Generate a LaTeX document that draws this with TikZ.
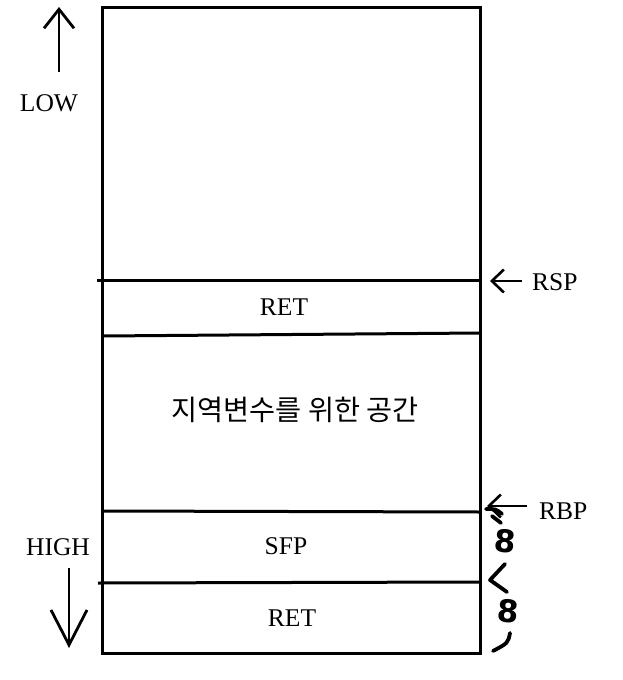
\documentclass[tikz,border=0pt]{standalone}
\usepackage{fontspec}
\setmainfont{Liberation Serif}
\newfontfamily\krfont{Noto Sans CJK KR}
\newfontfamily\handfont{DejaVu Sans}
\usetikzlibrary{arrows.meta}
\begin{document}
\begin{tikzpicture}[x=1pt,y=-1pt,
  wall/.style={line width=3pt},
  lbl/.style={font=\fontsize{25.5}{28}\selectfont, inner sep=0pt},
  bigarrow/.style={line width=2.8pt, -{Straight Barb[length=19pt,width=30pt,line width=2.8pt]}},
  ptr/.style={line width=2.6pt, -{Straight Barb[length=12pt,width=23pt,line width=2.6pt]}},
  hand/.style={line width=3.8pt, line cap=round, line join=round},
  handdigit/.style={font=\handfont\bfseries\fontsize{31}{31}\selectfont, inner sep=0pt}]
\useasboundingbox (0,0) rectangle (622,680);
% stack frame
\draw[wall] (102,7) rectangle (480,653);
\draw[wall] (97,280) -- (480,280);
\draw[wall] (103,336) -- (480,333);
\draw[wall] (102,511) -- (480,512);
\draw[wall] (98,583) -- (480,582);
% contents
\node[lbl] (ret1) at (284,307) {RET};
\node[font=\krfont\fontsize{28.3}{30}\selectfont, inner sep=0pt] (locals) at (295,410) {지역변수를 위한 공간};
\node[lbl] (sfp) at (286,546) {SFP};
\node[lbl] (ret2) at (292,618) {RET};
% direction labels
\node[lbl] (low) at (49,103) {LOW};
\coordinate (lowstart) at (59,72);
\coordinate (lowend) at (59,7);
\draw[bigarrow] (lowstart) -- (lowend);
\node[lbl] (high) at (58,547) {HIGH};
\coordinate (highstart) at (69,568);
\coordinate (highend) at (69,648);
\draw[bigarrow, -{Straight Barb[length=35pt,width=36pt,line width=2.8pt]}] (highstart) -- (highend);
% pointers
\node[lbl, anchor=west] (rsp) at (532,282) {RSP};
\coordinate (rsptip) at (490,281);
\coordinate (rspstart) at (522,281);
\draw[ptr] (rspstart) -- (rsptip);
\node[lbl, anchor=west] (rbp) at (539,511) {RBP};
\coordinate (rbptip) at (487,506);
\coordinate (rbpstart) at (527,506);
\draw[ptr] (rbpstart) -- (rbptip);
% handwritten size marks
\draw[hand] (486,509) .. controls (496,509) .. (502,514);
\draw[hand] (492,516) -- (501,523);
\node[handdigit, rotate=-5] (eight1) at (505,541) {8};
\draw[hand] (505,564) -- (490,580) -- (507,592);
\node[handdigit, rotate=-5] (eight2) at (508,611) {8};
\draw[hand] (510,633) .. controls (508,643) .. (493,651);
\end{tikzpicture}
\end{document}
